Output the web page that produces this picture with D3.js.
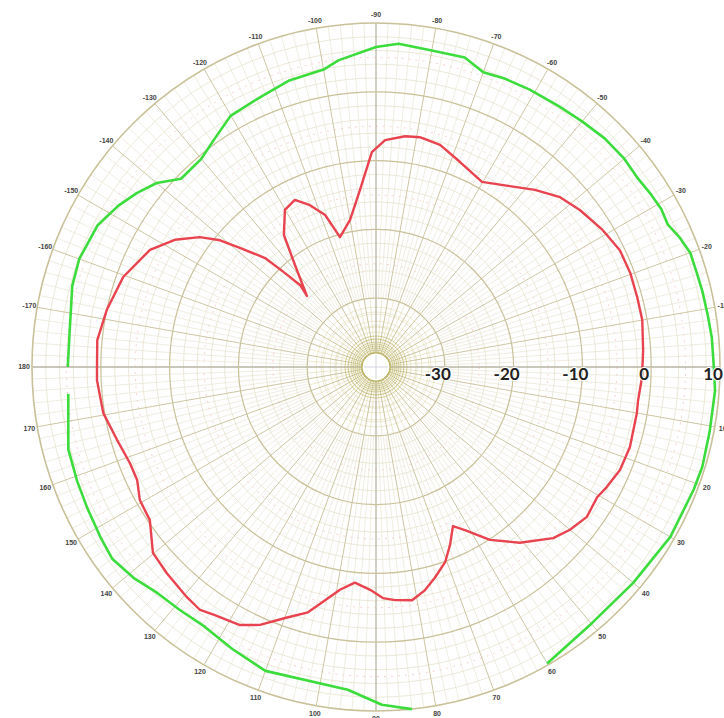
<!DOCTYPE html>
<html>
<head>
<meta charset="utf-8">
<script src="https://cdn.jsdelivr.net/npm/d3@7"></script>
<style>
  body { margin: 0; background: #fff; }
  svg { display: block; }
</style>
</head>
<body>
<svg id="visual" width="724" height="718"></svg>
<script>
'use strict';

// angles in degrees, 0 = right, -90 = top, 90 = bottom
var greenAngles = [-180, -174, -165, -160, -153, -148, -144, -140, -136, -130, -125, -120, -113, -107, -100, -97, -90, -86, -80, -74, -70, -66, -61, -55, -50, -45, -40, -36, -32, -29, -26, -23, -20, -16, -13, -9, -5, 0, 4, 11, 17, 21, 30, 40, 50, 60, 70, 84, 89, 95, 110, 117, 124, 129, 134, 139, 144, 148, 154, 159, 165, 175];
var greenDb = [4.8, 4.8, 5.7, 5.9, 5.4, 4.2, 3.0, 1.6, -0.6, -0.5, 0.7, 2.2, 2.7, 3.5, 3.9, 4.9, 6.5, 7.1, 6.7, 6.8, 5.6, 5.9, 6.1, 6.3, 6.6, 7.0, 7.1, 6.9, 7.2, 7.4, 7.2, 8.0, 8.6, 8.6, 8.7, 8.8, 9.0, 9.1, 9.4, 9.4, 9.6, 9.5, 9.4, 8.8, 8.7, 9.75, null, 10.0, 9.1, 7.1, 7.0, 6.0, 5.2, 5.4, 5.7, 6.7, 7.4, 7.1, 6.7, 6.5, 6.3, 4.9];

var redAngles = [-180, -174.5, -168, -160.4, -152.6, -147.7, -143.6, -140.9, -138.8, -135.5, -134.1, -132.8, -134.2, -128.5, -124.9, -120.1, -115.9, -112.2, -108.5, -105.5, -100, -95.2, -91.1, -87.7, -82.8, -79.2, -73.9, -67.7, -60.2, -53.5, -48.1, -42.7, -37.6, -31.1, -25.6, -20.3, -15, -10, -3.6, 2.2, 7.2, 10, 17.5, 22.9, 27.5, 30.5, 35.4, 40, 44, 50.7, 56.6, 61.4, 64.2, 67.4, 70.5, 74.4, 77.6, 81.2, 85.3, 88.3, 91.5, 95.6, 99.2, 102.3, 105.5, 109.9, 114.2, 117.8, 123, 125.9, 129.4, 135.4, 140.2, 145.9, 150.6, 154.7, 158.7, 164.3, 170.4, 177.3];
var redDb = [0.55, 0.7, 0.0, -1.0, -3.0, -5.4, -8.2, -10.8, -13.7, -17.4, -21.0, -23.8, -25.6, -21.1, -16.6, -13.6, -13.0, -14.6, -16.7, -20.4, -18.3, -14.2, -8.75, -7.0, -6.2, -6.0, -6.4, -7.8, -9.0, -7.3, -5.4, -3.6, -2.6, -1.5, -0.7, -0.6, -0.7, -0.7, -1.1, -1.3, -1.6, -1.5, -1.3, -1.5, -2.2, -2.7, -2.4, -3.2, -4.2, -7.0, -9.9, -13.0, -14.3, -12.0, -9.9, -8.2, -6.8, -5.7, -6.0, -6.4, -7.6, -8.5, -7.2, -5.3, -3.0, -1.2, 1.1, 2.4, 3.0, 3.6, 3.3, 2.7, 2.2, -0.3, -0.6, -1.6, -1.6, -0.9, 0.2, 0.6];

var radialTicks = [-30, -20, -10, 0, 10];
var angleTicks = d3.range(-170, 190, 10);

var cx = 376, cy = 367, outerR = 344, holeR = 14;

var svg = d3.select('#visual');
var g = svg.append('g').attr('transform', 'translate(' + cx + ',' + cy + ')');

var r = d3.scaleLinear().domain([-40, 10]).range([0, outerR]);
// screen angle (clockwise from east) -> d3 radial angle (clockwise from north)
var a = d3.scaleLinear().domain([-180, 180]).range([-Math.PI / 2, Math.PI * 1.5]);

function px(deg, rad) { return rad * Math.cos(deg * Math.PI / 180); }
function py(deg, rad) { return rad * Math.sin(deg * Math.PI / 180); }

var grid = g.append('g').attr('class', 'grid').attr('fill', 'none');

// minor rings every 2 dB
grid.selectAll('.minor-ring')
  .data(d3.range(-38, 10, 2).filter(function(d) { return d % 10 !== 0; }))
  .enter().append('circle')
    .attr('r', function(d) { return r(d); })
    .attr('stroke', '#e4e0c6')
    .attr('stroke-width', 0.7);

// faint pink dashed rings
grid.selectAll('.pink-ring')
  .data([-25, -15, -5, 5])
  .enter().append('circle')
    .attr('r', function(d) { return r(d); })
    .attr('stroke', '#f2c4c4')
    .attr('stroke-width', 0.8)
    .attr('stroke-dasharray', '2,5');

// minor spokes every 2 deg
grid.selectAll('.minor-spoke')
  .data(d3.range(-180, 180, 2).filter(function(d) { return d % 10 !== 0; }))
  .enter().append('line')
    .attr('x1', function(d) { return px(d, r(-30)); })
    .attr('y1', function(d) { return py(d, r(-30)); })
    .attr('x2', function(d) { return px(d, outerR); })
    .attr('y2', function(d) { return py(d, outerR); })
    .attr('stroke', '#e4e1cc')
    .attr('stroke-width', 0.6);

// inner spokes every 5 deg
grid.selectAll('.inner-spoke')
  .data(d3.range(-180, 180, 5).filter(function(d) { return d % 10 !== 0; }))
  .enter().append('line')
    .attr('x1', function(d) { return px(d, holeR); })
    .attr('y1', function(d) { return py(d, holeR); })
    .attr('x2', function(d) { return px(d, r(-30)); })
    .attr('y2', function(d) { return py(d, r(-30)); })
    .attr('stroke', '#dedab0')
    .attr('stroke-width', 0.6);

// major spokes every 10 deg
grid.selectAll('.major-spoke')
  .data(d3.range(-180, 180, 10))
  .enter().append('line')
    .attr('x1', function(d) { return px(d, holeR); })
    .attr('y1', function(d) { return py(d, holeR); })
    .attr('x2', function(d) { return px(d, outerR); })
    .attr('y2', function(d) { return py(d, outerR); })
    .attr('stroke', function(d) { return d % 90 === 0 ? '#b8b4a4' : '#cdc6a2'; })
    .attr('stroke-width', function(d) { return d % 90 === 0 ? 1.3 : 1; });

// dense rings round the centre hole
grid.selectAll('.center-ring')
  .data([15, 17, 19, 21, 23, 25, 28, 31, 35, 40, 46, 53, 60])
  .enter().append('circle')
    .attr('r', function(d) { return d; })
    .attr('stroke', '#bdb45a')
    .attr('stroke-opacity', function(d) { return d < 32 ? 0.75 : 0.35; })
    .attr('stroke-width', 0.8);

// major rings every 10 dB
grid.selectAll('.major-ring')
  .data(d3.range(-30, 20, 10))
  .enter().append('circle')
    .attr('r', function(d) { return r(d); })
    .attr('stroke', '#c9c199')
    .attr('stroke-width', function(d) { return d === 10 ? 1.6 : 1.2; });

g.append('circle')
    .attr('r', holeR)
    .attr('fill', '#fff')
    .attr('stroke', '#b4ab55')
    .attr('stroke-width', 1.2);
g.append('line')
    .attr('x1', -holeR + 2).attr('x2', holeR - 2)
    .attr('stroke', '#c8c8d8').attr('stroke-width', 0.8);
g.append('line')
    .attr('y1', -holeR + 2).attr('y2', holeR - 2)
    .attr('stroke', '#c8c8d8').attr('stroke-width', 0.8);

// traces
var line = d3.lineRadial()
    .angle(function(d) { return a(d.angle); })
    .radius(function(d) { return r(d.db); })
    .defined(function(d) { return d.db !== null; })
    .curve(d3.curveLinear);

var green = greenAngles.map(function(d, i) { return {angle: d, db: greenDb[i]}; });
var red = redAngles.map(function(d, i) { return {angle: d, db: redDb[i]}; });
red.push(red[0]);

g.append('path')
    .datum(green)
    .attr('d', line)
    .attr('fill', 'none')
    .attr('stroke', '#3ddc3d')
    .attr('stroke-width', 2.6)
    .attr('stroke-linejoin', 'round');

g.append('path')
    .datum(red)
    .attr('d', line)
    .attr('fill', 'none')
    .attr('stroke', '#e8434f')
    .attr('stroke-width', 2.4)
    .attr('stroke-linejoin', 'round');

// angle labels
g.selectAll('.angle-label')
  .data(angleTicks)
  .enter().append('text')
    .attr('x', function(d) { return px(d, 352); })
    .attr('y', function(d) { return py(d, 352); })
    .attr('dy', '0.35em')
    .style('text-anchor', 'middle')
    .style('font-family', 'Liberation Sans, Arial, sans-serif')
    .style('font-size', '7px')
    .style('font-weight', 'bold')
    .style('fill', '#444')
    .text(function(d) { return d; });

// radial labels
g.selectAll('.radial-label')
  .data(radialTicks)
  .enter().append('text')
    .attr('x', function(d) { return r(d) - 7; })
    .attr('y', 7)
    .attr('dy', '0.35em')
    .style('text-anchor', 'middle')
    .style('font-family', 'Lato, Open Sans, sans-serif')
    .style('font-size', '17px')
    .style('font-weight', 'bold')
    .style('fill', '#222')
    .style('stroke', '#fff')
    .style('stroke-width', 2)
    .style('paint-order', 'stroke')
    .text(function(d) { return d; });
</script>
</body>
</html>
